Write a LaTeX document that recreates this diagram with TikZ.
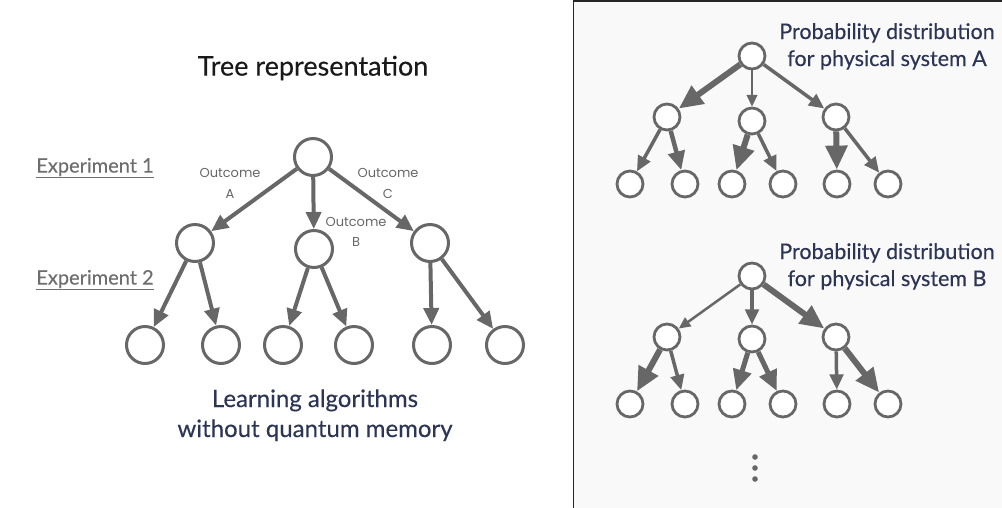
\documentclass[tikz,border=0pt]{standalone}
\usepackage{fontspec}
\setmainfont{Lato}
\newfontfamily\medfont{Lato}[FakeBold=0.3]
\newfontfamily\outfont{Poppins}
\usetikzlibrary{arrows.meta}
\definecolor{gc}{HTML}{676767}
\definecolor{navy}{HTML}{2C3554}
\definecolor{expgray}{HTML}{6E6E6E}
\definecolor{panelfill}{HTML}{F9F9F9}
\tikzset{
  bignode/.style={circle,draw=gc,line width=3pt,fill=white,inner sep=0pt,minimum size=37pt},
  smallnode/.style={circle,draw=gc,line width=2.8pt,fill=white,inner sep=0pt,minimum size=26pt},
  edge/.style={draw=gc,line width=#1pt,-{Triangle[length=3pt 3.5 0,width=3pt 3 0]}},
  outlbl/.style={text=gc,font=\outfont\fontsize{13}{20}\selectfont,inner sep=0pt,anchor=base},
  explbl/.style={text=expgray,font=\medfont\fontsize{20}{22}\selectfont,inner sep=0pt},
  navytxt/.style={text=navy,font=\medfont\fontsize{24}{28}\selectfont,inner sep=0pt,anchor=base},
  probtxt/.style={text=navy,font=\medfont\fontsize{21.5}{28}\selectfont,inner sep=0pt,anchor=base}
}
\begin{document}
\begin{tikzpicture}[x=1pt,y=-1pt]
\useasboundingbox (0,0) rectangle (1002,507);
% right panel
\draw[draw=black!85,line width=1.2pt,fill=panelfill] (573.5,1) rectangle (1010,520);
% title
\node[font=\medfont\fontsize{27}{30}\selectfont,text=black!90,inner sep=0pt] (title) at (313,68) {Tree representation};
\node[explbl] (exp1) at (95,168) {\underline{Experiment 1}};
\node[explbl] (exp2) at (95,280) {\underline{Experiment 2}};
% left tree
\node[bignode] (r0) at (313,157) {};
\node[bignode] (a) at (195,243) {};
\node[bignode] (b) at (314,249) {};
\node[bignode] (c) at (430,243) {};
\node[bignode] (l1) at (145,345) {};
\node[bignode] (l2) at (221,345) {};
\node[bignode] (l3) at (283,345) {};
\node[bignode] (l4) at (354,345) {};
\node[bignode] (l5) at (432,345) {};
\node[bignode] (l6) at (505,345) {};
\draw[edge=4] (r0) -- (a);
\draw[edge=4] (r0) -- (b);
\draw[edge=4] (r0) -- (c);
\draw[edge=4] (a) -- (l1);
\draw[edge=4] (a) -- (l2);
\draw[edge=4] (b) -- (l3);
\draw[edge=4] (b) -- (l4);
\draw[edge=4] (c) -- (l5);
\draw[edge=4] (c) -- (l6);
\node[outlbl] (oa1) at (230,177) {Outcome};
\node[outlbl] (oa2) at (230,198) {A};
\node[outlbl] (oc1) at (388,177) {Outcome};
\node[outlbl] (oc2) at (388,198) {C};
\node[outlbl] (ob1) at (356,226) {Outcome};
\node[outlbl] (ob2) at (356,246) {B};
\node[navytxt] (learn1) at (315,407) {Learning algorithms};
\node[navytxt] (learn2) at (315,437) {without quantum memory};
% right tree A
\node[probtxt] (pa1) at (887,39) {Probability distribution};
\node[probtxt] (pa2) at (887,66) {for physical system A};
\node[smallnode] (A0) at (752,56) {};
\node[smallnode] (A1) at (667,117) {};
\node[smallnode] (A2) at (752,121) {};
\node[smallnode] (A3) at (836,117) {};
\node[smallnode] (Al1) at (630,184) {};
\node[smallnode] (Al2) at (685,184) {};
\node[smallnode] (Al3) at (732,184) {};
\node[smallnode] (Al4) at (783,184) {};
\node[smallnode] (Al5) at (837,184) {};
\node[smallnode] (Al6) at (888,184) {};
\draw[edge=6] (A0) -- (A1);
\draw[edge=2.5] (A0) -- (A2);
\draw[edge=3.5] (A0) -- (A3);
\draw[edge=3.5] (A1) -- (Al1);
\draw[edge=4.5] (A1) -- (Al2);
\draw[edge=6] (A2) -- (Al3);
\draw[edge=3.5] (A2) -- (Al4);
\draw[edge=6] (A3) -- (Al5);
\draw[edge=3.5] (A3) -- (Al6);
% right tree B
\node[probtxt] (pb1) at (887,259) {Probability distribution};
\node[probtxt] (pb2) at (887,286) {for physical system B};
\node[smallnode] (B0) at (752,276) {};
\node[smallnode] (B1) at (667,337) {};
\node[smallnode] (B2) at (752,339) {};
\node[smallnode] (B3) at (836,337) {};
\node[smallnode] (Bl1) at (630,404) {};
\node[smallnode] (Bl2) at (685,404) {};
\node[smallnode] (Bl3) at (732,404) {};
\node[smallnode] (Bl4) at (783,404) {};
\node[smallnode] (Bl5) at (837,404) {};
\node[smallnode] (Bl6) at (888,404) {};
\draw[edge=2.5] (B0) -- (B1);
\draw[edge=3.5] (B0) -- (B2);
\draw[edge=6] (B0) -- (B3);
\draw[edge=6] (B1) -- (Bl1);
\draw[edge=3.5] (B1) -- (Bl2);
\draw[edge=5] (B2) -- (Bl3);
\draw[edge=5] (B2) -- (Bl4);
\draw[edge=3.5] (B3) -- (Bl5);
\draw[edge=6] (B3) -- (Bl6);
% dots
\fill[gc] (755,457) circle (2.8pt) coordinate (d1);
\fill[gc] (755,468) circle (2.8pt) coordinate (d2);
\fill[gc] (755,479) circle (2.8pt) coordinate (d3);
\end{tikzpicture}
\end{document}
